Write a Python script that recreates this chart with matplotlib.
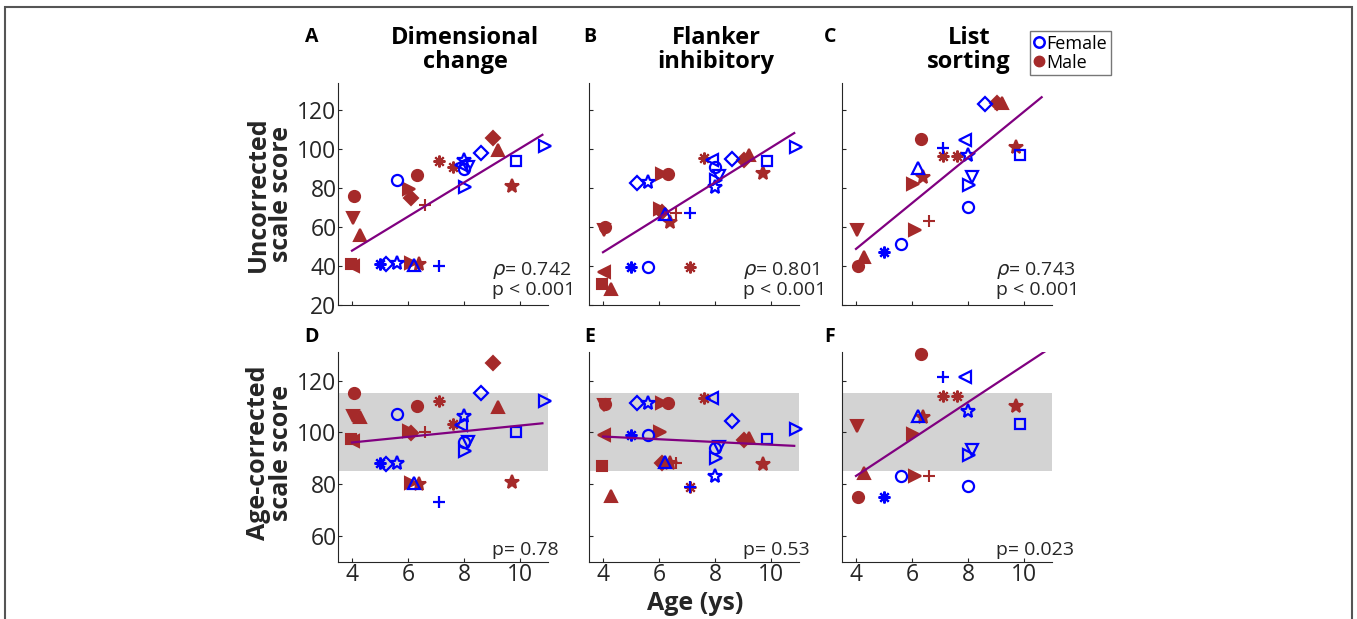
# 年齢と実行機能スコアの散布図（6パネル）
import numpy as np
import matplotlib.pyplot as plt
from matplotlib.lines import Line2D
from matplotlib.patches import Rectangle

nan = np.nan

# 女性（青・白抜き）：年齢と記号
f_age = [5.6, 5.0, 5.2, 5.62, 6.21, 7.12, 7.9, 8.0, 8.0, 8.15, 8.05, 8.62, 9.84, 10.89]
f_mark = ['o', 'ast', 'D', 'p', '^', '+', '<', 'p', 'o', 'v', '>', 'D', 's', '>']

# 男性（赤・塗りつぶし）：年齢と記号
m_age = [4.07, 4.05, 4.29, 3.98, 4.05, 6.31, 6.05, 6.1, 6.62, 7.1, 7.61, 9.02, 9.22, 9.73, 6.4, 6.11]
m_mark = ['o', 'v', '^', 's', '<', 'o', '>', 'D', '+', 'ast', 'ast', 'D', '^', 'p', 'p', '>']

# 未補正スコア（A, B, C）
f_A = [84.1, 41, 41, 41.4, 40.7, 40.2, 91.9, 94.5, 89.8, 91, 80.7, 97.9, 94.1, 101.7]
f_B = [39.3, 39.3, 82.9, 83.3, 66.9, 67.2, 94.5, 80.7, 91, 86.2, 84.1, 94.8, 94.1, 101]
f_C = [51.4, 47.1, nan, nan, 90.2, 100.5, 104.8, 97.1, 70.3, 85.5, 81.6, 123.4, 97.1, nan]
m_A = [76.0, 64.7, 55.7, 41, 40, 86.9, 79.8, 75, 71.2, 94.1, 91, 106, 99.7, 81, 41, 41.4]
m_B = [60, 58.6, 28.1, 30.7, 36.7, 87.1, 69.5, 67.5, 67.2, 39.3, 95.3, 94.5, 97.1, 87.9, 62.6, 87.1]
m_C = [40.2, 58.6, 44.5, nan, nan, 105.2, 81.9, nan, 63.1, 96.7, 96.7, 123.8, 123.8, 101, 85.9, 58.6]

# 年齢補正スコア（D, E, F）
f_D = [107.1, 88.1, 87.7, 88.1, 80.4, 73, 102.9, 106.4, 96.4, 96.1, 92.8, 115.1, 100.1, 112.1]
f_E = [99, 99, 111.2, 111.2, 88.5, 79.1, 113.2, 83.2, 93.9, 94.3, 90, 104.2, 97.3, 101.2]
f_F = [83.2, 75, nan, nan, 106.4, 121.2, 121.2, 108.3, 79.3, 93.2, 91.3, nan, 103.1, nan]
m_D = [115.1, 106.4, 106, 97.3, 96.8, 110, 100.7, 99.7, 100.3, 112.1, 103.1, 126.9, 109.7, 80.7, 80.1, 80.4]
m_E = [111, 110.5, 75.5, 87.1, 99, 111.2, 100.1, 88, 88.1, 79.1, 113.2, 97.1, 97.7, 87.8, 88, 111.2]
m_F = [75, 102.5, 84.2, nan, nan, 130.3, 99.3, nan, 83.2, 114.2, 114.2, nan, nan, 110.2, 105.8, 83.2]

# 回帰直線の端点
fit_x = {'A': [4.0, 10.8], 'B': [4.0, 10.83], 'C': [4.0, 10.63],
         'D': [4.0, 10.8], 'E': [4.0, 10.83], 'F': [4.0, 10.83]}
fit_y = {'A': [47.9, 107.4], 'B': [47.1, 108.3], 'C': [48.8, 126.7],
         'D': [96.1, 103.5], 'E': [98.4, 94.8], 'F': [83.2, 131.8]}

# 統計量の表示
stat_txt = {'A': '$\\rho$= 0.742\np < 0.001', 'B': '$\\rho$= 0.801\np < 0.001',
            'C': '$\\rho$= 0.743\np < 0.001',
            'D': 'p= 0.78', 'E': 'p= 0.53', 'F': 'p= 0.023'}
titles = ['Dimensional\nchange', 'Flanker\ninhibitory', 'List\nsorting']

BLUE = '#0000ff'
RED = '#a52a2a'
PURPLE = '#800080'
GRAY = '#262626'

MK = {'o': 'o', 'v': 'v', '^': '^', '<': '<', '>': '>', 's': 's', 'D': 'D',
      '+': '+', 'p': '*', 'ast': (8, 2, 0)}
MS = {'o': 8, 'v': 8.5, '^': 8.5, '<': 8.5, '>': 8.5, 's': 6.5, 'D': 7,
      '+': 8.5, 'p': 10.5, 'ast': 8.5}

plt.rcParams['font.family'] = ['Open Sans', 'DejaVu Sans']
plt.rcParams['mathtext.fontset'] = 'dejavusans'

fig = plt.figure(figsize=(13.57, 6.19), dpi=100)
W, H = 1357.0, 619.0


def draw_panel(ax, f_val, m_val, key, top_row, first_col):
    if not top_row:
        ax.axhspan(85, 115, color='#d3d3d3', lw=0, zorder=0)
    # 男性
    for x, y, mk in zip(m_age, m_val, m_mark):
        if np.isnan(y):
            continue
        ax.plot(x, y, ls='none', marker=MK[mk], ms=MS[mk], mfc=RED, mec=RED,
                mew=1.5, zorder=2, clip_on=False)
    # 女性
    for x, y, mk in zip(f_age, f_val, f_mark):
        if np.isnan(y):
            continue
        ax.plot(x, y, ls='none', marker=MK[mk], ms=MS[mk], mfc='none', mec=BLUE,
                mew=1.6, zorder=3, clip_on=False)
    ax.plot(fit_x[key], fit_y[key], color=PURPLE, lw=1.6, zorder=4)

    ax.set_xlim(3.5, 11)
    ax.set_xticks([4, 6, 8, 10])
    if top_row:
        ax.set_ylim(20, 134)
        ax.set_yticks([20, 40, 60, 80, 100, 120])
        ax.set_xticklabels([])
    else:
        ax.set_ylim(50, 131)
        ax.set_yticks([60, 80, 100, 120])
    if not first_col:
        ax.set_yticklabels([])
    ax.spines['top'].set_visible(False)
    ax.spines['right'].set_visible(False)
    for s in ['left', 'bottom']:
        ax.spines[s].set_color(GRAY)
        ax.spines[s].set_linewidth(0.8)
    ax.tick_params(direction='in', length=3, width=0.8, colors=GRAY,
                   labelsize=16.5, pad=1)
    ax.text(0.733, 0.115 if top_row else 0.055, stat_txt[key], transform=ax.transAxes,
            ha='left', va='center', fontsize=14, color=GRAY, linespacing=1.0)


lefts = [338, 589, 842]
keys_top = ['A', 'B', 'C']
keys_bot = ['D', 'E', 'F']
vals_top = [(f_A, m_A), (f_B, m_B), (f_C, m_C)]
vals_bot = [(f_D, m_D), (f_E, m_E), (f_F, m_F)]

for i in range(3):
    ax1 = fig.add_axes([lefts[i] / W, 1 - 305 / H, 210 / W, 222 / H])
    draw_panel(ax1, vals_top[i][0], vals_top[i][1], keys_top[i], True, i == 0)
    ax2 = fig.add_axes([lefts[i] / W, 1 - 562 / H, 210 / W, 210 / H])
    draw_panel(ax2, vals_bot[i][0], vals_bot[i][1], keys_bot[i], False, i == 0)

    # タイトルとパネル記号
    fig.text((lefts[i] + 127) / W, 1 - 50 / H, titles[i], ha='center', va='center',
             fontsize=17, fontweight='bold', linespacing=0.95)
letter_x = [312, 590, 830]
for lx, a, b in zip(letter_x, keys_top, keys_bot):
    fig.text(lx / W, 1 - 37 / H, a, ha='center', va='center', fontsize=14, fontweight='bold')
    fig.text(lx / W, 1 - 337 / H, b, ha='center', va='center', fontsize=14, fontweight='bold')

# 軸ラベル
fig.text(270 / W, 1 - 194 / H, 'Uncorrected\nscale score', rotation=90, ha='center',
         va='center', fontsize=18, fontweight='bold', color=GRAY, linespacing=0.9)
fig.text(270 / W, 1 - 453 / H, 'Age-corrected\nscale score', rotation=90, ha='center',
         va='center', fontsize=18, fontweight='bold', color=GRAY, linespacing=0.9)
fig.text(695 / W, 1 - 603 / H, 'Age (ys)', ha='center', va='center', fontsize=18,
         fontweight='bold', color=GRAY)

# 凡例
handles = [Line2D([], [], ls='none', marker='o', ms=7.5, mfc='none', mec=BLUE, mew=1.8),
           Line2D([], [], ls='none', marker='o', ms=7.5, mfc=RED, mec=RED)]
fig.legend(handles, ['Female', 'Male'], loc='upper left',
           bbox_to_anchor=(1030 / W, 1 - 31 / H), fontsize=13, frameon=True,
           fancybox=False, edgecolor='#555555', handlelength=0.6, handletextpad=0.1,
           borderpad=0.2, labelspacing=0.05, borderaxespad=0)

# 外枠
fig.add_artist(Rectangle((5 / W, -0.02), 1347 / W, 1 - 7 / H + 0.02, transform=fig.transFigure,
                         fill=False, edgecolor='#555555', lw=1.5))

fig.savefig('out.png', dpi=100)
